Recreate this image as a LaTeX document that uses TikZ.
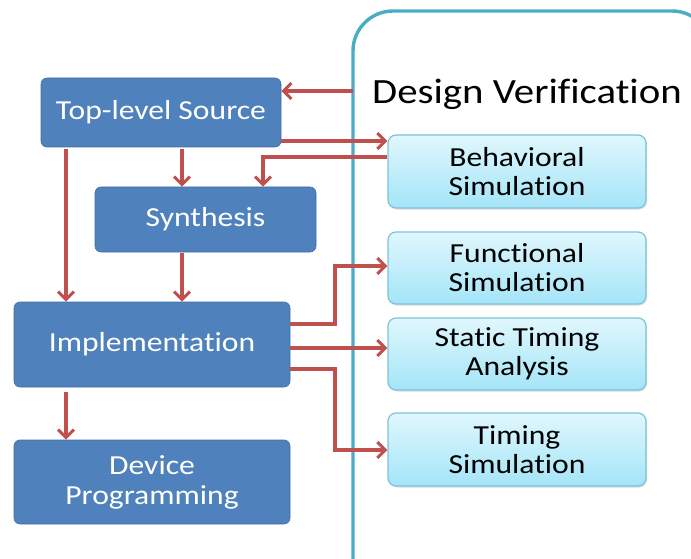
\documentclass[tikz,border=0pt]{standalone}
\usepackage{fontspec}
\setmainfont{Carlito}[FakeStretch=1.15,Ligatures=NoCommon]
\usetikzlibrary{arrows.meta,shadows}
\definecolor{stepblue}{HTML}{4F81BD}
\definecolor{flowred}{HTML}{C0504D}
\definecolor{framecyan}{HTML}{4BACC6}
\definecolor{simtop}{HTML}{E0F7FD}
\definecolor{simbot}{HTML}{A4E5F8}
\definecolor{simedge}{HTML}{7DC3D6}
\tikzset{
  stepbox/.style={draw=stepblue!85!black, line width=0.6pt, fill=stepblue, rounded corners=6pt,
    text=white, align=center, font=\fontsize{27.5}{30}\selectfont, inner sep=0pt},
  simbox/.style={draw=simedge, line width=1.2pt, top color=simtop, bottom color=simbot,
    rounded corners=8pt, align=center, font=\fontsize{27.5}{29}\selectfont, inner sep=0pt,
    minimum width=258pt, minimum height=73pt,
    drop shadow={shadow xshift=1pt, shadow yshift=-1.5pt, opacity=0.35, fill=black!40}},
  flow/.style={draw=flowred, line width=3.4pt,
    -{Straight Barb[length=8pt,width=16pt,line width=3pt]}}
}
\begin{document}
\begin{tikzpicture}[x=1pt,y=-1pt]
\useasboundingbox (0,0) rectangle (691,559);
% verification frame, running off the right and bottom edges
\begin{scope}
\clip (0,0) rectangle (691,559);
\draw[framecyan, line width=3.4pt, rounded corners=40pt] (353,11) rectangle (712,600);
\end{scope}
\node[font=\fontsize{35.5}{40}\selectfont, anchor=base] (dv) at (527,104) {Design Verification};

% implementation flow
\node[stepbox, minimum width=240pt, minimum height=69pt] (src) at (161,112.5) {Top-level Source};
\node[stepbox, minimum width=221pt, minimum height=65pt] (syn) at (205.5,219.5) {Synthesis};
\node[stepbox, minimum width=276pt, minimum height=85pt] (imp) at (152,344.5) {Implementation};
\node[stepbox, minimum width=276pt, minimum height=84pt] (dev) at (152,482) {Device\\Programming};

% verification steps
\node[simbox] (beh) at (517,171.5) {Behavioral\\Simulation};
\node[simbox, minimum height=72pt] (fun) at (517,268) {Functional\\Simulation};
\node[simbox, minimum height=72pt] (sta) at (517,354) {Static Timing\\Analysis};
\node[simbox] (tim) at (517,449.5) {Timing\\Simulation};

% connection points
\coordinate (frameL) at (353,91);
\coordinate (bend1) at (263,157);
\coordinate (bend2) at (335,324);
\coordinate (bend3) at (335,266);
\coordinate (bend4) at (335,369);
\coordinate (bend5) at (335,450);

% connectors
\draw[flow] (frameL) -- (src.east |- frameL);
\draw[flow] (src.east |- 0,141) -- (beh.west |- 0,141);
\draw[flow] (beh.west |- bend1) -- (bend1) -- (bend1 |- syn.north);
\draw[flow] ([yshift=-2pt]src.south -| 182,0) -- (syn.north -| 182,0);
\draw[flow] ([yshift=-2pt]src.south -| 66,0) -- (imp.north -| 66,0);
\draw[flow] ([yshift=-1pt]syn.south -| 182,0) -- (imp.north -| 182,0);
\draw[flow] ([yshift=-5pt]imp.south -| 66,0) -- (dev.north -| 66,0);
\draw[flow] (imp.east |- bend2) -- (bend2) -- (bend3) -- (fun.west |- bend3);
\draw[flow] (imp.east |- 0,348) -- (sta.west |- 0,348);
\draw[flow] (imp.east |- bend4) -- (bend4) -- (bend5) -- (tim.west |- bend5);
\end{tikzpicture}
\end{document}
